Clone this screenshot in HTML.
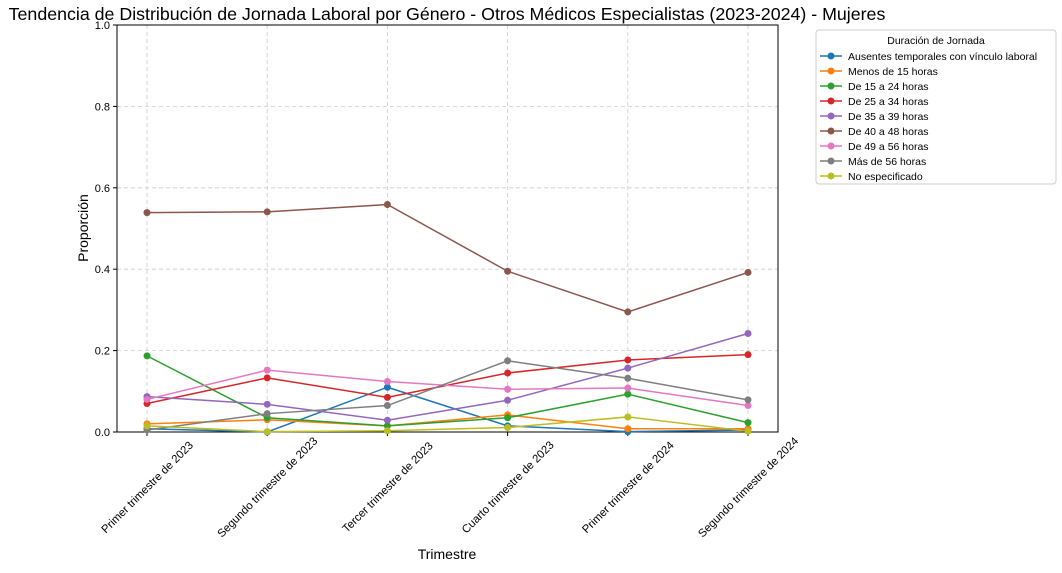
<!DOCTYPE html>
<html><head><meta charset="utf-8"><style>
body{margin:0;background:#fff;font-family:"Liberation Sans",sans-serif}
svg text{font-family:"Liberation Sans",sans-serif}
</style></head><body>
<svg id="c" width="1062" height="568"></svg>
<script>
const categories=["Primer trimestre de 2023","Segundo trimestre de 2023","Tercer trimestre de 2023","Cuarto trimestre de 2023","Primer trimestre de 2024","Segundo trimestre de 2024"];
const seriesNames=["Ausentes temporales con vínculo laboral","Menos de 15 horas","De 15 a 24 horas","De 25 a 34 horas","De 35 a 39 horas","De 40 a 48 horas","De 49 a 56 horas","Más de 56 horas","No especificado"];
const sAusentes=[0.008,0.0,0.11,0.015,0.001,0.005];
const sMenos15=[0.02,0.03,0.015,0.042,0.008,0.008];
const s15a24=[0.187,0.035,0.015,0.035,0.093,0.023];
const s25a34=[0.07,0.133,0.085,0.145,0.177,0.19];
const s35a39=[0.087,0.068,0.029,0.078,0.157,0.242];
const s40a48=[0.539,0.541,0.559,0.395,0.295,0.392];
const s49a56=[0.08,0.152,0.124,0.105,0.108,0.065];
const sMas56=[0.005,0.045,0.065,0.175,0.132,0.079];
const sNoEsp=[0.015,0.001,0.003,0.011,0.037,0.002];
const yTicks=[0,0.2,0.4,0.6,0.8,1.0];
const yTickLabels=["0.0","0.2","0.4","0.6","0.8","1.0"];
const series=[sAusentes,sMenos15,s15a24,s25a34,s35a39,s40a48,s49a56,sMas56,sNoEsp];
const colors=["#1f77b4","#ff7f0e","#2ca02c","#d62728","#9467bd","#8c564b","#e377c2","#7f7f7f","#bcbd22"];
const L=117,R=778,T=25,B=432;
const x=i=>147+i*(748-147)/(categories.length-1);
const y=v=>B-v*(B-T);
const svg=document.getElementById('c');const NS="http://www.w3.org/2000/svg";
function mk(t,a,p){const e=document.createElementNS(NS,t);for(const k in a)e.setAttribute(k,a[k]);(p||svg).appendChild(e);return e;}
let e=mk('text',{x:447,y:20,'font-size':17.8,'text-anchor':'middle'});e.textContent="Tendencia de Distribución de Jornada Laboral por Género - Otros Médicos Especialistas (2023-2024) - Mujeres";


yTicks.forEach((v,i)=>{let g=mk('line',{x1:L,x2:R,y1:y(v),y2:y(v),stroke:'#ccc','stroke-dasharray':'4,3','stroke-width':0.8});


mk('line',{x1:L-4,x2:L,y1:y(v),y2:y(v),stroke:'#000'});
let t=mk('text',{x:L-7,y:y(v)+4,'font-size':11,'text-anchor':'end'});t.textContent=yTickLabels[i];

});
categories.forEach((c,i)=>{let g=mk('line',{x1:x(i),x2:x(i),y1:T,y2:B,stroke:'#ccc','stroke-dasharray':'4,3','stroke-width':0.8});


mk('line',{x1:x(i),x2:x(i),y1:B,y2:B+4,stroke:'#000'});
const cx=x(i),cy=B+55;
let t=mk('text',{x:cx,y:cy+4,'font-size':11.3,'text-anchor':'middle',transform:`rotate(-45 ${cx} ${cy})`});t.textContent=c;

});
let fr=mk('rect',{x:L,y:T,width:R-L,height:B-T,fill:'none',stroke:'#000','stroke-width':1});


series.forEach((s,k)=>{let p=mk('polyline',{points:s.map((v,i)=>x(i)+','+y(v)).join(' '),fill:'none',stroke:colors[k],'stroke-width':1.5});


s.forEach((v,i)=>{let c=mk('circle',{cx:x(i),cy:y(v),r:3.5,fill:colors[k]});

});});
e=mk('text',{x:447,y:559,'font-size':14,'text-anchor':'middle'});e.textContent="Trimestre";


e=mk('text',{x:88,y:228,'font-size':14,'text-anchor':'middle',transform:'rotate(-90 88 228)'});e.textContent="Proporción";


let lg=mk('rect',{x:816,y:30,width:240,height:154,fill:'#fff',stroke:'#ccc',rx:3});


e=mk('text',{x:936,y:44,'font-size':10.5,'text-anchor':'middle'});e.textContent="Duración de Jornada";


seriesNames.forEach((n,k)=>{const yy=56+k*15;
mk('line',{x1:820,x2:842,y1:yy,y2:yy,stroke:colors[k],'stroke-width':1.5});
mk('circle',{cx:831,cy:yy,r:3.5,fill:colors[k]});
let t=mk('text',{x:848,y:yy+4,'font-size':10.5});t.textContent=n;

});
</script>
</body></html>
